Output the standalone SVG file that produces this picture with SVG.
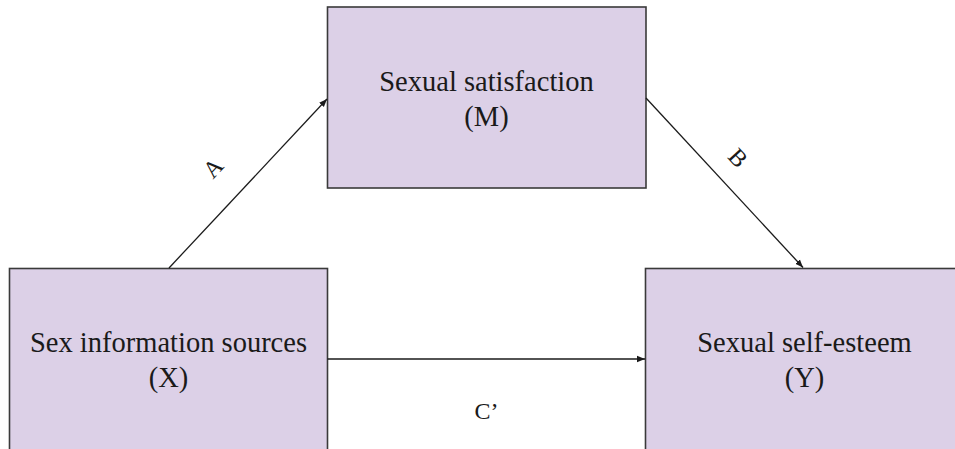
<svg xmlns="http://www.w3.org/2000/svg" width="955" height="449" viewBox="0 0 955 449">
<style>
.box{fill:#dcd0e7;stroke:#3a3a3a;stroke-width:1.6}
.t{font-family:"Liberation Serif","Times New Roman",serif;font-size:28.5px;fill:#1a1a1a;text-anchor:middle}
.l{font-family:"Liberation Serif","Times New Roman",serif;font-size:24px;fill:#1a1a1a;text-anchor:middle}
.c{stroke:#1a1a1a;stroke-width:1.3;fill:none;marker-end:url(#ah)}
</style>
<defs>
<marker id="ah" viewBox="0 0 10 10" refX="10" refY="5" markerWidth="8" markerHeight="8" markerUnits="userSpaceOnUse" orient="auto">
<path d="M0,1 L10,5 L0,9 z" fill="#1a1a1a"/>
</marker>
</defs>
<g id="node-M">
<rect class="box" x="327.5" y="7" width="318.5" height="181"/>
<text class="t" x="486.5" y="91">Sexual satisfaction</text>
<text class="t" x="486.5" y="126">(M)</text>
</g>
<g id="node-X">
<rect class="box" x="9.5" y="268.5" width="318" height="200"/>
<text class="t" x="168.5" y="352">Sex information sources</text>
<text class="t" x="168.5" y="387">(X)</text>
</g>
<g id="node-Y">
<rect class="box" x="645.5" y="268.5" width="318" height="200"/>
<text class="t" x="804.5" y="352">Sexual self-esteem</text>
<text class="t" x="804.5" y="387">(Y)</text>
</g>
<g id="connectors">
<line class="c" x1="169" y1="268" x2="327" y2="99"/>
<line class="c" x1="646" y1="98" x2="803" y2="267.5"/>
<line class="c" x1="327.5" y1="359" x2="645" y2="359"/>
<text class="l" transform="translate(213,168) rotate(-47)" y="8">A</text>
<text class="l" transform="translate(738,158) rotate(47)" y="8">B</text>
<text class="l" x="486.5" y="419">C’</text>
</g>
</svg>
